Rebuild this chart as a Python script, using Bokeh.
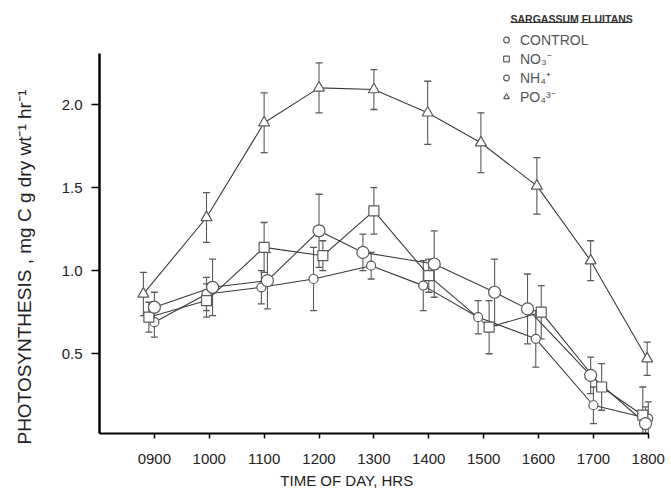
from bokeh.plotting import figure
from bokeh.models import (ColumnDataSource, Whisker, TeeHead, Legend, LegendItem,
                          FixedTicker, Label, BoxAnnotation, Range1d)
from bokeh.embed import file_html
from bokeh.resources import INLINE

# ---- data ----
tick_hours = [9, 10, 11, 12, 13, 14, 15, 16, 17, 18]
tick_labels = ["0900", "1000", "1100", "1200", "1300", "1400", "1500", "1600", "1700", "1800"]
y_ticks = [0.5, 1.0, 1.5, 2.0]
y_tick_labels = ["0.5", "1.0", "1.5", "2.0"]

control_t = [9.0, 9.95, 10.95, 11.9, 12.95, 13.9, 14.9, 15.95, 17.0, 18.0]
control_y = [0.69, 0.86, 0.90, 0.95, 1.03, 0.91, 0.72, 0.59, 0.19, 0.11]
control_e = [0.09, 0.10, 0.10, 0.19, 0.08, 0.15, 0.10, 0.17, 0.11, 0.10]

no3_t = [8.9, 9.95, 11.0, 12.07, 13.0, 14.0, 15.1, 16.05, 17.15, 17.9]
no3_y = [0.72, 0.82, 1.14, 1.09, 1.36, 0.97, 0.66, 0.75, 0.30, 0.13]
no3_e = [0.09, 0.10, 0.15, 0.09, 0.14, 0.10, 0.16, 0.16, 0.14, 0.17]

nh4_t = [9.0, 10.06, 11.06, 12.0, 12.8, 14.1, 15.2, 15.8, 16.95, 17.95]
nh4_y = [0.78, 0.90, 0.94, 1.24, 1.11, 1.04, 0.87, 0.77, 0.37, 0.08]
nh4_e = [0.09, 0.17, 0.17, 0.22, 0.11, 0.20, 0.20, 0.21, 0.11, 0.10]

po4_t = [8.8, 9.95, 11.0, 12.0, 13.0, 13.98, 14.95, 15.97, 16.95, 17.98]
po4_y = [0.86, 1.32, 1.89, 2.10, 2.09, 1.95, 1.77, 1.51, 1.06, 0.47]
po4_e = [0.13, 0.15, 0.18, 0.15, 0.12, 0.19, 0.18, 0.17, 0.12, 0.10]

series = [
    ("CONTROL", control_t, control_y, control_e, "circle", 9),
    ("NO\u2083\u207b", no3_t, no3_y, no3_e, "square", 10),
    ("NH\u2084\u207a", nh4_t, nh4_y, nh4_e, "circle", 12),
    ("PO\u2084\u00b3\u207b", po4_t, po4_y, po4_e, "triangle", 11),
]

FONT = "Liberation Sans"
LINE_C = "#3a3a3a"
MARK_C = "#5a5a5a"
NBSP = "\u00a0"

p = figure(width=667, height=491, output_backend="svg", toolbar_location=None,
           x_range=Range1d(8, 18.15), y_range=Range1d(0.02, 2.626),
           min_border_left=99, min_border_right=11, min_border_top=0, min_border_bottom=58)
p.outline_line_color = None
p.grid.visible = False
p.background_fill_color = "white"

legend_items = []
for name, t, y, e, marker, size in series:
    src = ColumnDataSource(dict(t=t, y=y, lo=[a - b for a, b in zip(y, e)],
                                hi=[a + b for a, b in zip(y, e)]))
    p.line("t", "y", source=src, line_color=LINE_C, line_width=1.1)
    w = Whisker(base="t", lower="lo", upper="hi", source=src, dimension="height",
                line_color=MARK_C, line_width=1.1,
                upper_head=TeeHead(size=7, line_color=MARK_C, line_width=1.3),
                lower_head=TeeHead(size=7, line_color=MARK_C, line_width=1.3))
    p.add_layout(w)
for name, t, y, e, marker, size in series:
    src = ColumnDataSource(dict(t=t, y=y))
    r = p.scatter("t", "y", source=src, marker=marker, size=size,
                  fill_color="white", line_color=MARK_C, line_width=1.2)
    legend_items.append(LegendItem(label=name, renderers=[r]))

legend = Legend(items=legend_items, location=(400, 327), padding=0, margin=0, spacing=0,
                glyph_width=14, glyph_height=19, label_height=19, label_standoff=7,
                label_text_font=FONT, label_text_font_size="14px", label_text_color="#555555",
                background_fill_alpha=0, border_line_color=None)
p.add_layout(legend)

title = Label(x=411, y=415, x_units="screen", y_units="screen", text="SARGASSUM FLUITANS",
              text_font=FONT, text_font_size="10.5px", text_font_style="bold",
              text_color="#333333", text_baseline="alphabetic")
p.add_layout(title)
for l, r in [(411, 477), (481, 528)]:
    p.add_layout(BoxAnnotation(left=l, right=r, top=411.5, bottom=410.5,
                               left_units="screen", right_units="screen",
                               top_units="screen", bottom_units="screen",
                               fill_color="#333333", fill_alpha=1, line_color=None))

# axes
p.xaxis.ticker = FixedTicker(ticks=tick_hours)
p.xaxis.major_label_overrides = {h: lab for h, lab in zip(tick_hours, tick_labels)}
p.xaxis.bounds = (8, 18)
p.yaxis.ticker = FixedTicker(ticks=y_ticks)
p.yaxis.major_label_overrides = {v: lab for v, lab in zip(y_ticks, y_tick_labels)}
p.yaxis.bounds = (0.02, 2.31)
p.xaxis.minor_tick_line_color = None
p.yaxis.minor_tick_line_color = None

p.xaxis.axis_label = "TIME OF DAY, HRS" + NBSP * 15
p.yaxis.axis_label = "PHOTOSYNTHESIS , mg C  g dry wt\u207b\u00b9  hr\u207b\u00b9" + NBSP * 17
for ax in (p.xaxis, p.yaxis):
    ax.axis_line_color = "black"
    ax.major_tick_line_color = "black"
    ax.major_tick_line_width = 1.5
    ax.major_tick_in = 0
    ax.major_label_text_font = FONT
    ax.major_label_text_font_size = "15px"
    ax.major_label_text_color = "#222222"
    ax.axis_label_text_font = FONT
    ax.axis_label_text_font_style = "normal"
    ax.axis_label_text_color = "#222222"
p.xaxis.axis_line_width = 2
p.yaxis.axis_line_width = 2.5
p.xaxis.major_tick_out = 5
p.yaxis.major_tick_out = 8
p.xaxis.major_label_standoff = 15
p.yaxis.major_label_standoff = 9
p.xaxis.axis_label_text_font_size = "15px"
p.yaxis.axis_label_text_font_size = "19px"
p.xaxis.axis_label_standoff = 5
p.yaxis.axis_label_standoff = 24

open("out.html", "w").write(file_html(p, INLINE))
